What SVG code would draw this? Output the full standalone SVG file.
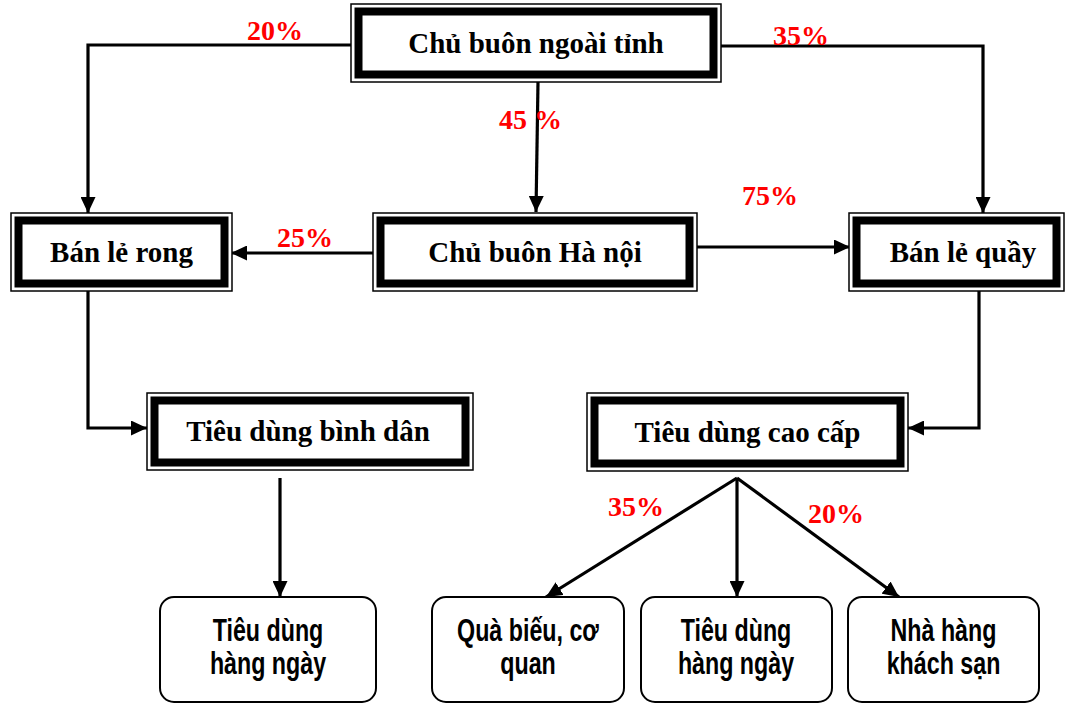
<svg xmlns="http://www.w3.org/2000/svg" width="1067" height="704" viewBox="0 0 1067 704">
<style>
.outer{fill:#fff;stroke:#000;stroke-width:1.5}
.inner{fill:none;stroke:#000;stroke-width:8}
.t{font-family:"Liberation Serif","Times New Roman",serif;font-weight:bold;font-size:29px;fill:#000;text-anchor:middle}
.rb{fill:#fff;stroke:#000;stroke-width:2}
.s{font-family:"Liberation Sans",Arial,sans-serif;font-weight:bold;font-size:31px;fill:#000;text-anchor:middle}
.p{font-family:"Liberation Serif","Times New Roman",serif;font-weight:bold;font-size:28px;fill:#ff0000}
.c{fill:none;stroke:#000;stroke-width:3.2}
</style>
<defs>
<marker id="ah" markerUnits="userSpaceOnUse" markerWidth="16" markerHeight="15" refX="16" refY="7.5" orient="auto">
<path d="M0,0 L16,7.5 L0,15 z" fill="#000"/>
</marker>
</defs>
<rect width="1067" height="704" fill="#fff"/>
<g id="connectors">
<polyline class="c" points="351,45 88,45 88,213" marker-end="url(#ah)"/>
<polyline class="c" points="721,46 983,46 983,213" marker-end="url(#ah)"/>
<line class="c" x1="538" y1="82" x2="536" y2="212" marker-end="url(#ah)"/>
<line class="c" x1="373" y1="253" x2="231" y2="253" marker-end="url(#ah)"/>
<line class="c" x1="697" y1="247" x2="850" y2="247" marker-end="url(#ah)"/>
<polyline class="c" points="88,291 88,428 147,428" marker-end="url(#ah)"/>
<polyline class="c" points="979,291 979,428 908,428" marker-end="url(#ah)"/>
<line class="c" x1="280" y1="478" x2="280" y2="597" marker-end="url(#ah)"/>
<line class="c" x1="737" y1="478" x2="546" y2="597" marker-end="url(#ah)"/>
<line class="c" x1="737" y1="478" x2="737" y2="597" marker-end="url(#ah)"/>
<line class="c" x1="737" y1="478" x2="899" y2="597" marker-end="url(#ah)"/>
<text class="p" x="247" y="40">20%</text>
<text class="p" x="773" y="45">35%</text>
<text class="p" x="499" y="129">45 %</text>
<text class="p" x="277" y="247">25%</text>
<text class="p" x="742" y="205">75%</text>
<text class="p" x="608" y="516">35%</text>
<text class="p" x="808" y="523">20%</text>
</g>
<g id="n1">
<rect class="outer" x="351" y="4" width="370" height="78"/>
<rect class="inner" x="358.5" y="11.5" width="355" height="63"/>
<text class="t" x="536" y="53">Chủ buôn ngoài tỉnh</text>
</g>
<g id="n2">
<rect class="outer" x="11" y="213" width="221" height="78"/>
<rect class="inner" x="18.5" y="220.5" width="206" height="63"/>
<text class="t" x="121.5" y="262">Bán lẻ rong</text>
</g>
<g id="n3">
<rect class="outer" x="373" y="213" width="324" height="78"/>
<rect class="inner" x="380.5" y="220.5" width="309" height="63"/>
<text class="t" x="535" y="262">Chủ buôn Hà nội</text>
</g>
<g id="n4">
<rect class="outer" x="849" y="213" width="215" height="78"/>
<rect class="inner" x="856.5" y="220.5" width="200" height="63"/>
<text class="t" x="963" y="262">Bán lẻ quầy</text>
</g>
<g id="n5">
<rect class="outer" x="147" y="393" width="326" height="77"/>
<rect class="inner" x="154.5" y="400.5" width="311" height="62"/>
<text class="t" x="308" y="441">Tiêu dùng bình dân</text>
</g>
<g id="n6">
<rect class="outer" x="587" y="393" width="321" height="78"/>
<rect class="inner" x="594.5" y="400.5" width="306" height="63"/>
<text class="t" x="747.5" y="442">Tiêu dùng cao cấp</text>
</g>
<g id="n7">
<rect class="rb" x="160" y="597" width="216" height="105" rx="14"/>
<text class="s" transform="translate(268,641) scale(0.75,1)">Tiêu dùng</text>
<text class="s" transform="translate(268,674) scale(0.75,1)">hàng ngày</text>
</g>
<g id="n8">
<rect class="rb" x="432" y="597" width="192" height="105" rx="14"/>
<text class="s" transform="translate(528,641) scale(0.75,1)">Quà biếu, cơ</text>
<text class="s" transform="translate(528,674) scale(0.75,1)">quan</text>
</g>
<g id="n9">
<rect class="rb" x="641" y="597" width="191" height="105" rx="14"/>
<text class="s" transform="translate(736,641) scale(0.75,1)">Tiêu dùng</text>
<text class="s" transform="translate(736,674) scale(0.75,1)">hàng ngày</text>
</g>
<g id="n10">
<rect class="rb" x="848" y="597" width="191" height="105" rx="14"/>
<text class="s" transform="translate(943.5,641) scale(0.75,1)">Nhà hàng</text>
<text class="s" transform="translate(943.5,674) scale(0.75,1)">khách sạn</text>
</g>
</svg>
